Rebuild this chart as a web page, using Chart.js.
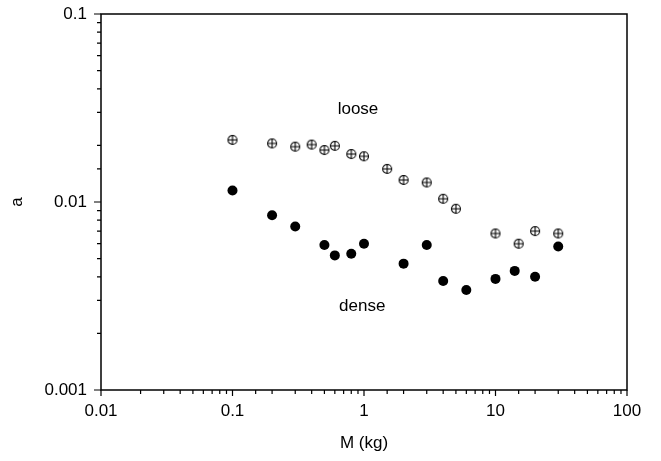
<!DOCTYPE html>
<html>
<head>
<meta charset="utf-8">
<script src="https://cdn.jsdelivr.net/npm/chart.js@4/dist/chart.umd.min.js"></script>
<style>
  html, body { margin: 0; padding: 0; background: #fff; }
</style>
</head>
<body>
<canvas id="grafic" width="661" height="461"></canvas>
<script>
// Dades llegides del gràfic (escala log-log)
const massaLoose = [0.1, 0.2, 0.3, 0.4, 0.5, 0.6, 0.8, 1, 1.5, 2, 3, 4, 5, 10, 15, 20, 30];
const aLoose     = [0.0214, 0.0205, 0.0197, 0.0202, 0.0189, 0.0199, 0.0180, 0.0175, 0.0150,
                    0.0131, 0.0127, 0.0104, 0.0092, 0.0068, 0.0060, 0.0070, 0.0068];
const massaDense = [0.1, 0.2, 0.3, 0.5, 0.6, 0.8, 1, 2, 3, 4, 6, 10, 14, 20, 30];
const aDense     = [0.0115, 0.0085, 0.0074, 0.0059, 0.0052, 0.0053, 0.0060, 0.0047, 0.0059,
                    0.0038, 0.0034, 0.0039, 0.0043, 0.0040, 0.0058];
const xTicks = [0.01, 0.1, 1, 10, 100];
const yTicks = [0.001, 0.01, 0.1];
const etiquetes = [
    { text: 'loose', x: 0.9,  y: 0.031 },
    { text: 'dense', x: 0.97, y: 0.0028 }
];

const FONT = { family: '"Liberation Sans", Arial, sans-serif', size: 17 };

// Cercle amb creu per als punts "loose"
function creaCercleCreu() {
    const c = document.createElement('canvas');
    c.width = 12; c.height = 12;
    const ctx = c.getContext('2d');
    ctx.strokeStyle = '#000';
    ctx.lineWidth = 1.1;
    ctx.beginPath();
    ctx.arc(6, 6, 4.5, 0, Math.PI * 2);
    ctx.moveTo(1.5, 6); ctx.lineTo(10.5, 6);
    ctx.moveTo(6, 1.5); ctx.lineTo(6, 10.5);
    ctx.stroke();
    return c;
}

const esPotencia = v => Math.abs(Math.log10(v) - Math.round(Math.log10(v))) < 1e-6;
const etiqueta = llista => v => {
    const t = llista.find(t => Math.abs(t - v) / t < 1e-6);
    return t === undefined ? '' : String(t);
};

// Marc i marques de les escales (majors i menors)
const marcPlugin = {
    id: 'marc',
    afterDraw(chart) {
        const { ctx, chartArea: a, scales } = chart;
        ctx.save();
        ctx.strokeStyle = '#000';
        ctx.lineWidth = 1.5;
        ctx.strokeRect(a.left, a.top, a.right - a.left, a.bottom - a.top);
        ctx.lineWidth = 1.2;
        ctx.beginPath();
        scales.x.ticks.forEach(t => {
            const px = scales.x.getPixelForValue(t.value);
            const len = esPotencia(t.value) ? 6 : 4;
            ctx.moveTo(px, a.bottom); ctx.lineTo(px, a.bottom + len);
        });
        scales.y.ticks.forEach(t => {
            const py = scales.y.getPixelForValue(t.value);
            const len = esPotencia(t.value) ? 7 : 4;
            ctx.moveTo(a.left, py); ctx.lineTo(a.left - len, py);
        });
        ctx.stroke();

        ctx.fillStyle = '#000';
        ctx.font = `${FONT.size}px ${FONT.family}`;
        ctx.textAlign = 'center';
        ctx.textBaseline = 'middle';
        etiquetes.forEach(e => {
            ctx.fillText(e.text, scales.x.getPixelForValue(e.x), scales.y.getPixelForValue(e.y));
        });
        ctx.restore();
    }
};

new Chart(document.getElementById('grafic'), {
    type: 'scatter',
    data: {
        datasets: [
            {
                label: 'loose',
                data: massaLoose.map((m, i) => ({ x: m, y: aLoose[i] })),
                pointStyle: creaCercleCreu(),
                pointRadius: 5
            },
            {
                label: 'dense',
                data: massaDense.map((m, i) => ({ x: m, y: aDense[i] })),
                pointStyle: 'circle',
                pointRadius: 5,
                backgroundColor: '#000',
                borderColor: '#000',
                borderWidth: 0
            }
        ]
    },
    options: {
        responsive: false,
        animation: false,
        devicePixelRatio: 1,
        layout: { padding: { top: 14, right: 34, left: 0, bottom: 0 } },
        plugins: { legend: { display: false }, tooltip: { enabled: false } },
        scales: {
            x: {
                type: 'logarithmic',
                min: 0.01, max: 100,
                grid: { display: false, drawTicks: false },
                border: { display: false },
                ticks: { autoSkip: false, maxRotation: 0, padding: 11, color: '#000', font: FONT,
                         callback: etiqueta(xTicks) },
                title: { display: true, text: 'M (kg)', color: '#000', font: FONT,
                         padding: { top: 0, bottom: 7 } },
                afterFit: s => { s.height = 71; s.paddingLeft = 0; s.paddingRight = 0; }
            },
            y: {
                type: 'logarithmic',
                min: 0.001, max: 0.1,
                grid: { display: false, drawTicks: false },
                border: { display: false },
                ticks: { autoSkip: false, padding: 14, color: '#000', font: FONT,
                         callback: etiqueta(yTicks) },
                title: { display: true, text: 'a', color: '#000', font: FONT,
                         padding: { top: 7, bottom: 0 } },
                afterFit: s => { s.width = 101; s.paddingTop = 0; s.paddingBottom = 0; }
            }
        }
    },
    plugins: [marcPlugin]
});
</script>
</body>
</html>
